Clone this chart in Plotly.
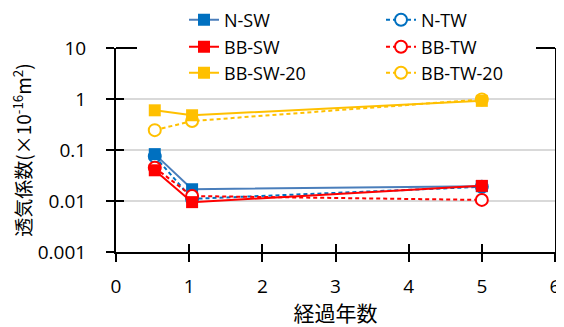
import plotly.graph_objects as go

years = [0.53, 1.04, 5.0]

n_sw = [0.083, 0.017, 0.0195]
n_tw = [0.075, 0.011, 0.019]
bb_sw = [0.040, 0.0095, 0.0198]
bb_tw = [0.045, 0.0125, 0.0105]
bb_sw20 = [0.60, 0.48, 0.92]
bb_tw20 = [0.245, 0.37, 0.98]

y_ticks = [0.001, 0.01, 0.1, 1, 10]
y_ticktext = ["0.001", "0.01", "0.1", "1", "10"]
x_ticks = [0, 1, 2, 3, 4, 5, 6]

BLUE = "#0070C0"
BLUE_LINE = "#4A7EBB"
RED = "#FF0000"
YEL = "#FFC000"

FONT = "'Open Sans', 'Noto Sans CJK JP', sans-serif"
JFONT = "'Noto Sans CJK JP', sans-serif"

fig = go.Figure()

def add(name, vals, color, solid, rank, legend, linecolor=None):
    if solid:
        marker = dict(symbol="square", size=12, color=color, line=dict(width=0))
        line = dict(color=linecolor or color, width=2, dash="solid")
    else:
        marker = dict(symbol="circle", size=12, color="white", line=dict(color=color, width=2))
        line = dict(color=color, width=2, dash="4px,3px")
    fig.add_trace(go.Scatter(x=years, y=vals, name=name, mode="lines+markers",
                             marker=marker, line=line, legendrank=rank, legend=legend))

# drawing order (later on top); legend order via legendrank
add("N-TW", n_tw, BLUE, False, 2, "legend")
add("N-SW", n_sw, BLUE, True, 1, "legend", BLUE_LINE)
add("BB-TW", bb_tw, RED, False, 2, "legend2")
add("BB-SW", bb_sw, RED, True, 1, "legend2")
add("BB-TW-20", bb_tw20, YEL, False, 2, "legend3")
add("BB-SW-20", bb_sw20, YEL, True, 1, "legend3")

# overlay axes to make crossing ticks
fig.add_trace(go.Scatter(x=[None], y=[None], xaxis="x2", yaxis="y2", showlegend=False, hoverinfo="skip"))

W, H = 556, 319
ML, MR, MT, MB = 108, 9, 40, 75
PW, PH = W - ML - MR, H - MT - MB

def py(fig_y):
    return (H - MB - fig_y) / PH

def px(fig_x):
    return (fig_x - ML) / PW

leg_common = dict(orientation="h", xanchor="left", yanchor="middle",
                  bgcolor="rgba(0,0,0,0)", borderwidth=0, entrywidth=152, itemwidth=30,
                  font=dict(family=FONT, size=18), itemclick=False, traceorder="normal")
LX = px(176)

fig.update_layout(
    width=W, height=H,
    margin=dict(l=ML, r=MR, t=MT, b=MB, autoexpand=False),
    paper_bgcolor="white", plot_bgcolor="white",
    font=dict(family=FONT, size=19, color="black"),
    xaxis=dict(range=[0, 6], tickvals=x_ticks, ticks="outside", ticklen=8, tickwidth=2,
               tickcolor="black", showline=True, linecolor="black", linewidth=2, mirror=False,
               showgrid=False, zeroline=False, automargin=False, ticklabelstandoff=8,
               tickfont=dict(family=FONT, size=19),
               title=dict(text="経過年数", font=dict(family=JFONT, size=21), standoff=3)),
    yaxis=dict(type="log", range=[-3, 1], tickvals=y_ticks, ticktext=y_ticktext,
               ticks="outside", ticklen=8, tickwidth=2, tickcolor="black",
               showline=True, linecolor="black", linewidth=2, mirror=True,
               showgrid=True, gridcolor="#D9D9D9", gridwidth=2, zeroline=False, automargin=False,
               ticklabelstandoff=16,
               tickfont=dict(family=FONT, size=19),
               title=dict(text="透気係数(×10<sup>-16</sup>m<sup>2</sup>)", font=dict(family=JFONT, size=19), standoff=4)),
    xaxis2=dict(range=[0, 6], tickvals=x_ticks, ticks="inside", ticklen=8, tickwidth=2,
                tickcolor="black", showticklabels=False, showgrid=False, zeroline=False,
                overlaying="x", anchor="y2", showline=False),
    yaxis2=dict(type="log", range=[-3, 1], tickvals=y_ticks, ticks="inside", ticklen=8, tickwidth=2,
                tickcolor="black", showticklabels=False, showgrid=False, zeroline=False,
                overlaying="y", anchor="x2", showline=False),
    legend=dict(x=LX, y=py(12), **leg_common),
    legend2=dict(x=LX, y=py(39), **leg_common),
    legend3=dict(x=LX, y=py(65), **leg_common),
    showlegend=True,
    shapes=[
        dict(type="line", xref="paper", yref="paper", x0=0, x1=px(129), y0=1, y1=1,
             line=dict(color="black", width=2)),
        dict(type="line", xref="paper", yref="paper", x0=px(528), x1=1, y0=1, y1=1,
             line=dict(color="black", width=2)),
    ],
)

fig.write_html("out.html")
